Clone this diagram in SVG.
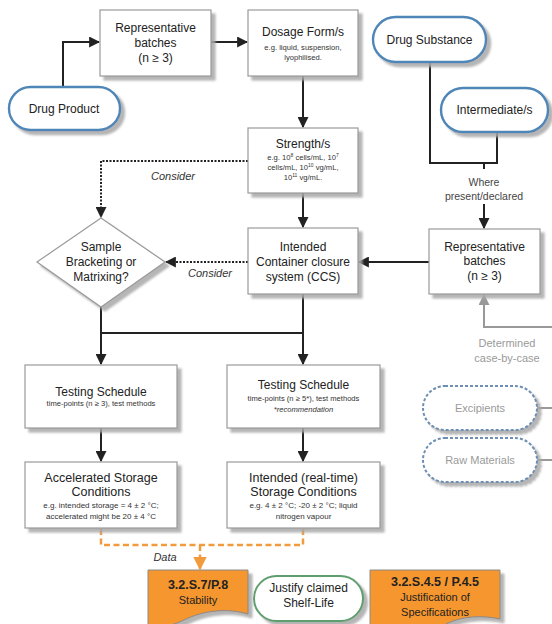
<svg xmlns="http://www.w3.org/2000/svg" width="552" height="624" viewBox="0 0 552 624">
<style>
text{font-family:"Liberation Sans",Arial,sans-serif;fill:#222;text-anchor:middle}
.t{font-size:12px}
.s{font-size:7.6px;fill:#333}
.i{font-style:italic;font-size:11px;fill:#333}
.b{font-weight:bold;font-size:12.5px}
.box{fill:#fff;stroke:#9a9a9a;stroke-width:1.2}
.pill{fill:#fff;stroke:#4f86b8;stroke-width:2.4}
.dpill{fill:#fff;stroke:#6d8fb3;stroke-width:2;stroke-dasharray:3 2}
.gpill{fill:#fff;stroke:#5f9e6e;stroke-width:2}
.doc{fill:#f5962d;stroke:#8a8a8a;stroke-width:1}
.ln{fill:none;stroke:#222;stroke-width:2}
.dot{fill:none;stroke:#222;stroke-width:2;stroke-dasharray:2 1.5}
.gl{fill:none;stroke:#999;stroke-width:2}
.or{fill:none;stroke:#f29b3c;stroke-width:2.5;stroke-dasharray:6 3.5}
</style>
<defs>
<filter id="sh" x="-10%" y="-10%" width="130%" height="140%">
<feDropShadow dx="4" dy="4" stdDeviation="0.8" flood-color="#a8a8a8" flood-opacity="0.85"/>
</filter>
<marker id="a" viewBox="0 0 10 10" refX="9" refY="5" markerWidth="5.5" markerHeight="5.5" orient="auto" markerUnits="strokeWidth"><path d="M0,0 L10,5 L0,10 Z" fill="#222"/></marker>
<marker id="ag" viewBox="0 0 10 10" refX="9" refY="5" markerWidth="5.5" markerHeight="5.5" orient="auto" markerUnits="strokeWidth"><path d="M0,0 L10,5 L0,10 Z" fill="#999"/></marker>
<marker id="ao" viewBox="0 0 10 10" refX="9" refY="5" markerWidth="5.5" markerHeight="5.5" orient="auto" markerUnits="strokeWidth"><path d="M0,0 L10,5 L0,10 Z" fill="#f29b3c"/></marker>
</defs>

<g id="connectors">
<path class="ln" d="M63,87 V42 H99" marker-end="url(#a)"/>
<path class="ln" d="M211,42 H247" marker-end="url(#a)"/>
<path class="ln" d="M303,76 V127" marker-end="url(#a)"/>
<path class="dot" d="M248,161 H101 V217" marker-end="url(#a)"/>
<path class="ln" d="M303,193 V227" marker-end="url(#a)"/>
<path class="dot" d="M248,262 H166" marker-end="url(#a)"/>
<path class="ln" d="M430,62 V163 H497 V132"/>
<path class="ln" d="M484,163 V169"/>
<path class="ln" d="M484,204 V228" marker-end="url(#a)"/>
<path class="ln" d="M429,262 H359" marker-end="url(#a)"/>
<path class="gl" d="M552,327 H484 V295" marker-end="url(#ag)"/>
<path class="gl" d="M537,408 H552"/>
<path class="gl" d="M537,460 H552"/>
<path class="ln" d="M101,307 V364" marker-end="url(#a)"/>
<path class="ln" d="M101,333 H303"/>
<path class="ln" d="M303,294 V364" marker-end="url(#a)"/>
<path class="ln" d="M101,428 V461" marker-end="url(#a)"/>
<path class="ln" d="M303,428 V461" marker-end="url(#a)"/>
<path class="or" d="M101,529 V545 H303 V529"/>
<path class="or" d="M200,545 V569" marker-end="url(#ao)"/>
<text class="i" x="173" y="180">Consider</text>
<text class="i" x="210" y="277">Consider</text>
<text x="484" y="186" style="font-size:10.5px;fill:#444">Where</text>
<text x="484" y="200" style="font-size:10.5px;fill:#444">present/declared</text>
<text x="507" y="347" style="font-size:11px;fill:#9a9a9a">Determined</text>
<text x="507" y="362" style="font-size:11px;fill:#9a9a9a">case-by-case</text>
<text class="i" x="165" y="561">Data</text>
</g>

<g id="drug-product">
<rect class="pill" x="9" y="87" width="111" height="43" rx="21.5" filter="url(#sh)"/>
<text class="t" x="64" y="113">Drug Product</text>
</g>

<g id="rep-batches-dp">
<rect class="box" x="100" y="10" width="111" height="66" filter="url(#sh)"/>
<text class="t" x="155.5" y="32">Representative</text>
<text class="t" x="155.5" y="47">batches</text>
<text class="t" x="155.5" y="62">(n ≥ 3)</text>
</g>

<g id="dosage-form">
<rect class="box" x="248" y="10" width="110" height="66" filter="url(#sh)"/>
<text class="t" x="303" y="36">Dosage Form/s</text>
<text class="s" x="303" y="50">e.g. liquid, suspension,</text>
<text class="s" x="303" y="60">lyophilised.</text>
</g>

<g id="strength">
<rect class="box" x="248" y="128" width="110" height="65" filter="url(#sh)"/>
<text class="t" x="303" y="148">Strength/s</text>
<text class="s" x="303" y="160">e.g. 10<tspan dy="-3" font-size="5">8</tspan><tspan dy="3"> cells/mL, 10</tspan><tspan dy="-3" font-size="5">7</tspan></text>
<text class="s" x="303" y="170">cells/mL,  10<tspan dy="-3" font-size="5">10</tspan><tspan dy="3"> vg/mL,</tspan></text>
<text class="s" x="303" y="180">10<tspan dy="-3" font-size="5">11</tspan><tspan dy="3"> vg/mL.</tspan></text>
</g>

<g id="ccs">
<rect class="box" x="248" y="228" width="110" height="66" filter="url(#sh)"/>
<text class="t" x="303" y="251">Intended</text>
<text class="t" x="303" y="266">Container closure</text>
<text class="t" x="303" y="281">system (CCS)</text>
</g>

<g id="bracketing">
<polygon points="101,218 165,262 101,307 37,262" fill="#fff" stroke="#9a9a9a" stroke-width="1.2" filter="url(#sh)"/>
<text class="t" x="101" y="251">Sample</text>
<text class="t" x="101" y="266">Bracketing or</text>
<text class="t" x="101" y="281">Matrixing?</text>
</g>

<g id="drug-substance">
<rect class="pill" x="373" y="17" width="113" height="45" rx="22.5" filter="url(#sh)"/>
<text class="t" x="429.5" y="44">Drug Substance</text>
</g>

<g id="intermediates">
<rect class="pill" x="441" y="88" width="107" height="44" rx="22" filter="url(#sh)"/>
<text class="t" x="494.5" y="114">Intermediate/s</text>
</g>

<g id="rep-batches-ds">
<rect class="box" x="429" y="229" width="111" height="65" filter="url(#sh)"/>
<text class="t" x="484.5" y="251">Representative</text>
<text class="t" x="484.5" y="265">batches</text>
<text class="t" x="484.5" y="280">(n ≥ 3)</text>
</g>

<g id="excipients">
<rect class="dpill" x="423" y="386" width="114" height="44" rx="22" filter="url(#sh)"/>
<text x="480" y="412" style="font-size:11px;fill:#9a9a9a">Excipients</text>
</g>

<g id="raw-materials">
<rect class="dpill" x="423" y="438" width="114" height="44" rx="22" filter="url(#sh)"/>
<text x="480" y="464" style="font-size:11px;fill:#9a9a9a">Raw Materials</text>
</g>

<g id="testing-accel">
<rect class="box" x="25" y="365" width="152" height="63" filter="url(#sh)"/>
<text class="t" x="101" y="395.5">Testing Schedule</text>
<text class="s" x="101" y="406">time-points (n ≥ 3), test methods</text>
</g>

<g id="testing-real">
<rect class="box" x="227" y="365" width="153" height="63" filter="url(#sh)"/>
<text class="t" x="303.5" y="389">Testing Schedule</text>
<text class="s" x="303.5" y="401">time-points (n ≥ 5*), test methods</text>
<text class="s" x="303.5" y="412" font-style="italic">*recommendation</text>
</g>

<g id="accelerated">
<rect class="box" x="25" y="462" width="152" height="66" filter="url(#sh)"/>
<text x="101" y="482" style="font-size:12.5px">Accelerated Storage</text>
<text x="101" y="496" style="font-size:12.5px">Conditions</text>
<text class="s" x="101" y="508" style="font-size:8px">e.g. intended storage = 4 ± 2 °C;</text>
<text class="s" x="101" y="519" style="font-size:8px">accelerated might be 20 ± 4 °C</text>
</g>

<g id="real-time">
<rect class="box" x="227" y="462" width="153" height="66" filter="url(#sh)"/>
<text x="303.5" y="482" style="font-size:12.5px">Intended (real-time)</text>
<text x="303.5" y="496" style="font-size:12.5px">Storage Conditions</text>
<text class="s" x="303.5" y="508" style="font-size:8px">e.g. 4 ± 2 °C; -20 ± 2 °C; liquid</text>
<text class="s" x="303.5" y="519" style="font-size:8px">nitrogen vapour</text>
</g>

<g id="stability">
<path class="doc" d="M148,570 H248 V614 C228,608 204,610 184,620 C172,626 160,628 148,626 Z" filter="url(#sh)"/>
<text class="b" x="198" y="589">3.2.S.7/P.8</text>
<text x="198" y="604" style="font-size:11px">Stability</text>
</g>

<g id="shelf-life">
<rect class="gpill" x="254" y="576" width="109" height="45" rx="22.5" filter="url(#sh)"/>
<text class="t" x="308.5" y="592">Justify claimed</text>
<text class="t" x="308.5" y="607">Shelf-Life</text>
</g>

<g id="specifications">
<path class="doc" d="M370,570 H500 V619 C482,615 462,616 446,624 L446,630 H370 Z" filter="url(#sh)"/>
<text class="b" x="435" y="586">3.2.S.4.5 / P.4.5</text>
<text x="435" y="601" style="font-size:11px">Justification of</text>
<text x="435" y="616" style="font-size:11px">Specifications</text>
</g>
</svg>
